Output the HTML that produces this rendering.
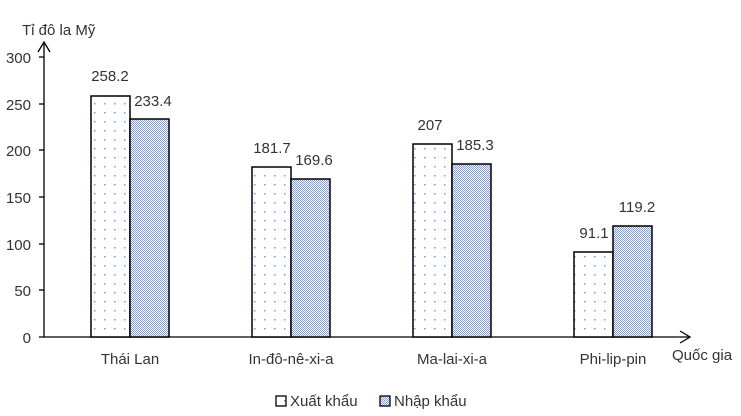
<!DOCTYPE html>
<html><head><meta charset="utf-8"><style>body{margin:0;background:#fff}</style></head><body>
<svg width="741" height="411" xmlns="http://www.w3.org/2000/svg" font-family="Liberation Sans, sans-serif" font-size="15" fill="#333">
<defs>
<pattern id="dots" width="10" height="9" patternUnits="userSpaceOnUse"><rect width="10" height="9" fill="#fff"/><rect x="4" y="4" width="1.5" height="1.5" fill="#7d98dd"/></pattern>
<pattern id="chk" width="2" height="2" patternUnits="userSpaceOnUse"><rect width="2" height="2" fill="#fff"/><rect width="1" height="1" fill="#7f9be0"/><rect x="1" y="1" width="1" height="1" fill="#7f9be0"/></pattern>
</defs>
<text x="22" y="35" font-size="15">Tỉ đô la Mỹ</text>
<g stroke="#000" stroke-width="1.3">
<line x1="44" y1="337" x2="44" y2="44"/>
<polyline points="38,52 44,42 50,52" fill="none"/>
<line x1="44" y1="337" x2="690" y2="337"/>
<polyline points="680,331 690,337 680,343" fill="none"/>
<line x1="39" y1="57" x2="44" y2="57"/><line x1="39" y1="104" x2="44" y2="104"/><line x1="39" y1="150" x2="44" y2="150"/><line x1="39" y1="197" x2="44" y2="197"/><line x1="39" y1="244" x2="44" y2="244"/><line x1="39" y1="290" x2="44" y2="290"/><line x1="39" y1="337" x2="44" y2="337"/>
</g>
<g text-anchor="end">
<text x="31" y="63">300</text><text x="31" y="110">250</text><text x="31" y="156">200</text><text x="31" y="203">150</text><text x="31" y="250">100</text><text x="31" y="296">50</text><text x="31" y="343">0</text>
</g>
<g stroke="#000" stroke-width="1.5">
<rect x="91" y="96" width="39" height="241" fill="url(#dots)"/>
<rect x="130" y="119" width="39" height="218" fill="url(#chk)"/>
<rect x="252" y="167" width="39" height="170" fill="url(#dots)"/>
<rect x="291" y="179" width="39" height="158" fill="url(#chk)"/>
<rect x="413" y="144" width="39" height="193" fill="url(#dots)"/>
<rect x="452" y="164" width="39" height="173" fill="url(#chk)"/>
<rect x="574" y="252" width="39" height="85" fill="url(#dots)"/>
<rect x="613" y="226" width="39" height="111" fill="url(#chk)"/>
</g>
<g text-anchor="middle">
<text x="110" y="81">258.2</text><text x="153" y="106">233.4</text>
<text x="272" y="153">181.7</text><text x="314" y="165">169.6</text>
<text x="430" y="130">207</text><text x="475" y="150">185.3</text>
<text x="594" y="238">91.1</text><text x="637" y="212">119.2</text>
<text x="130" y="364">Thái Lan</text><text x="291" y="364">In-đô-nê-xi-a</text>
<text x="452" y="364">Ma-lai-xi-a</text><text x="613" y="364">Phi-lip-pin</text>
</g>
<text x="672" y="360">Quốc gia</text>
<rect x="276" y="396" width="10" height="10" fill="url(#dots)" stroke="#000" stroke-width="1.3"/>
<text x="290" y="406">Xuất khẩu</text>
<rect x="380" y="396" width="10" height="10" fill="url(#chk)" stroke="#000" stroke-width="1.3"/>
<text x="394" y="406">Nhập khẩu</text>
</svg>
</body></html>
